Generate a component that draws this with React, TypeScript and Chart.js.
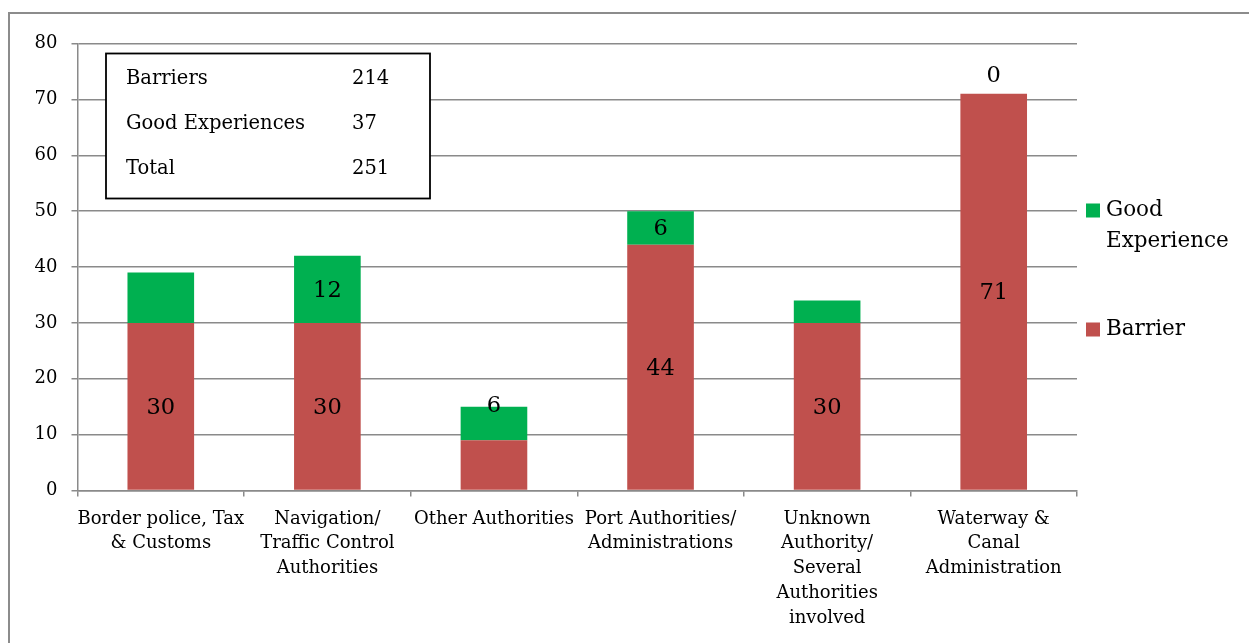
import React, { useEffect, useRef } from "react";
import { Chart, registerables } from "chart.js";

Chart.register(...registerables);

const categories: string[][] = [
  ["Border police, Tax", "& Customs"],
  ["Navigation/", "Traffic Control", "Authorities"],
  ["Other Authorities"],
  ["Port Authorities/", "Administrations"],
  ["Unknown", "Authority/", "Several", "Authorities", "involved"],
  ["Waterway &", "Canal", "Administration"],
];
const barrierValues = [30, 30, 9, 44, 30, 71];
const goodValues = [9, 12, 6, 6, 4, 0];
// label mode per bar: "c" = centred, "e" = on top edge, "a" = above, "" = hidden
const barrierLabelMode = ["c", "c", "", "c", "c", "c"];
const goodLabelMode = ["", "c", "e", "c", "", "a"];
const summaryLabels = ["Barriers", "Good Experiences", "Total"];
const summaryValues = [214, 37, 251];
const yTicks = [0, 10, 20, 30, 40, 50, 60, 70, 80];

const FONT = "'DejaVu Serif', serif";
const RED = "#C0504D";
const GREEN = "#00B050";
const GRID = "#8a8a8a";

const overlayPlugin = {
  id: "overlay",
  afterDatasetsDraw(chart: any) {
    const ctx = chart.ctx;
    const area = chart.chartArea;
    ctx.save();
    // data labels
    ctx.fillStyle = "#000";
    ctx.font = `22.5px ${FONT}`;
    ctx.textAlign = "center";
    ctx.textBaseline = "middle";
    const modes = [barrierLabelMode, goodLabelMode];
    const vals = [barrierValues, goodValues];
    [0, 1].forEach((di) => {
      const meta = chart.getDatasetMeta(di);
      meta.data.forEach((bar: any, i: number) => {
        const m = modes[di][i];
        if (!m) return;
        let y = (bar.y + bar.base) / 2 + 1.5;
        if (m === "e") y = bar.y - 1;
        if (m === "a") y = bar.y - 18;
        ctx.fillText(String(vals[di][i]), bar.x, y);
      });
    });

    // summary box
    const bx = 106;
    const by = area.top + 10;
    ctx.strokeStyle = "#000";
    ctx.lineWidth = 1.8;
    ctx.fillStyle = "#fff";
    ctx.fillRect(bx, by, 324, 145);
    ctx.strokeRect(bx, by, 324, 145);
    ctx.fillStyle = "#000";
    ctx.font = `19.5px ${FONT}`;
    ctx.textAlign = "left";
    summaryLabels.forEach((s, i) => {
      const yy = by + 25 + i * 45;
      ctx.fillText(s, bx + 20, yy);
      ctx.fillText(String(summaryValues[i]), bx + 246, yy);
    });

    // legend
    const lx = area.right + 9;
    ctx.font = `21.5px ${FONT}`;
    ctx.fillStyle = GREEN;
    ctx.fillRect(lx, area.top + 160, 14, 14);
    ctx.fillStyle = RED;
    ctx.fillRect(lx, area.top + 279, 14, 14);
    ctx.fillStyle = "#000";
    ctx.fillText("Good", lx + 20, area.top + 167);
    ctx.fillText("Experience", lx + 20, area.top + 198);
    ctx.fillText("Barrier", lx + 20, area.top + 286);
    ctx.restore();
  },
};

export default function App() {
  const ref = useRef<HTMLCanvasElement>(null);
  useEffect(() => {
    if (!ref.current) return;
    const chart = new Chart(ref.current, {
      type: "bar",
      data: {
        labels: categories as any,
        datasets: [
          {
            label: "Barrier",
            data: barrierValues,
            backgroundColor: RED,
            borderWidth: 0,
            barPercentage: 0.5,
            categoryPercentage: 0.8,
          },
          {
            label: "Good Experience",
            data: goodValues,
            backgroundColor: GREEN,
            borderWidth: 0,
            barPercentage: 0.5,
            categoryPercentage: 0.8,
          },
        ],
      },
      options: {
        responsive: false,
        animation: false,
        devicePixelRatio: 1,
        layout: { padding: { left: 0, top: 43.5, right: 172, bottom: 0 } },
        plugins: {
          legend: { display: false },
          tooltip: { enabled: false },
          title: { display: false },
        },
        scales: {
          x: {
            stacked: true,
            afterFit: (s: any) => {
              s.height = 152.5;
            },
            border: { display: true, color: GRID, width: 1.5 },
            grid: {
              offset: true,
              drawOnChartArea: false,
              drawTicks: true,
              tickLength: 6,
              color: GRID,
              lineWidth: 1.5,
            },
            ticks: {
              autoSkip: false,
              maxRotation: 0,
              minRotation: 0,
              padding: 10,
              color: "#000",
              font: { family: FONT, size: 18, lineHeight: 1.38 },
            },
          },
          y: {
            stacked: true,
            min: 0,
            max: 80,
            afterFit: (s: any) => {
              s.width = 77.5;
            },
            afterBuildTicks: (s: any) => {
              s.ticks = yTicks.map((v) => ({ value: v }));
            },
            border: { display: true, color: GRID, width: 1.5 },
            grid: {
              color: GRID,
              lineWidth: 1.5,
              drawTicks: true,
              tickLength: 6,
            },
            ticks: {
              padding: 14,
              color: "#000",
              font: { family: FONT, size: 18 },
            },
          },
        },
      },
      plugins: [overlayPlugin],
    });
    return () => chart.destroy();
  }, []);

  return (
    <div
      style={{
        position: "fixed",
        left: 0,
        top: 0,
        width: 1249,
        height: 643,
        overflow: "hidden",
        background: "#fff",
      }}
    >
      <div
        style={{
          position: "absolute",
          left: 8,
          top: 12,
          width: 1400,
          height: 800,
          border: "2px solid #8c8c8c",
        }}
      />
      <canvas
        ref={ref}
        width={1249}
        height={643}
        style={{ position: "absolute", left: 0, top: 0, width: 1249, height: 643 }}
      />
    </div>
  );
}
